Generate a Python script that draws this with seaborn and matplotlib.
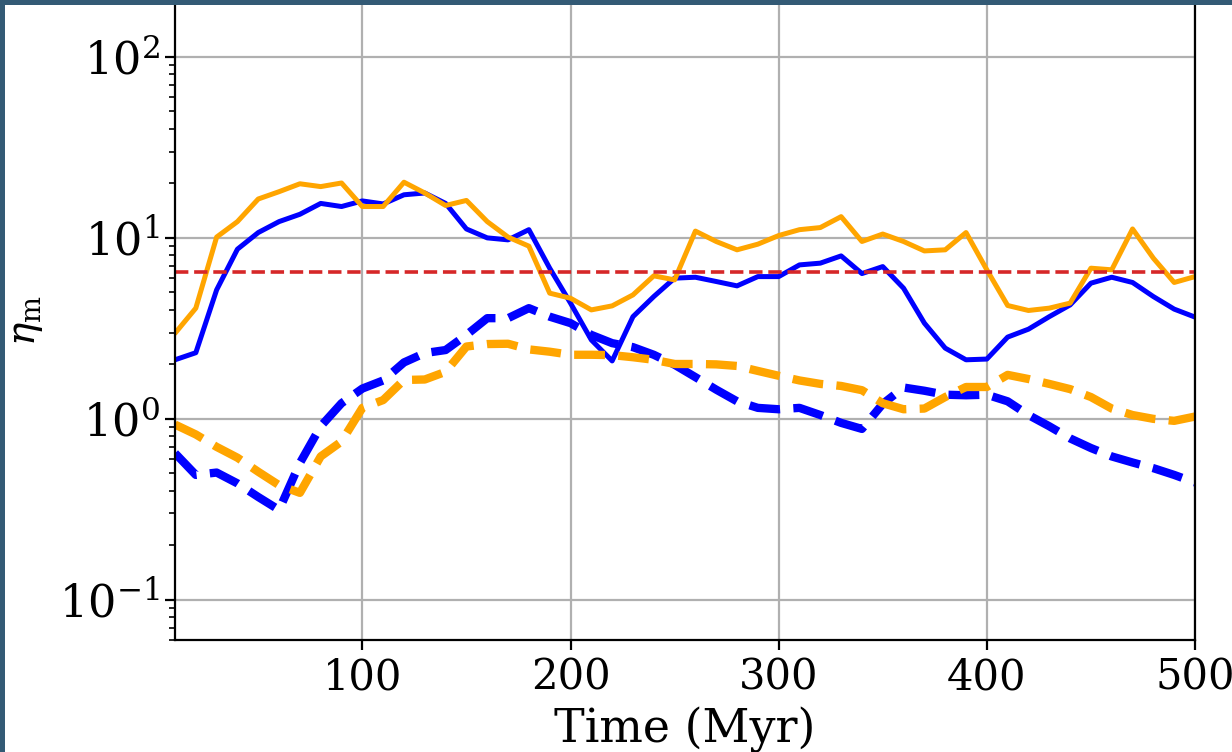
import matplotlib
matplotlib.use("Agg")
import matplotlib.pyplot as plt
from matplotlib.patches import Rectangle
import numpy as np
import pandas as pd
import seaborn as sns

# Simulation output times (Myr)
time_myr = list(range(10, 501, 10))

# Mass-loading factor, two runs, two measurement definitions
eta_blue_solid = [2.12, 2.32, 5.16, 8.66, 10.7, 12.3, 13.5, 15.5, 14.9, 16.0,
                  15.4, 17.3, 17.7, 15.5, 11.2, 10.0, 9.75, 11.1,
                  6.8, 4.36, 2.73, 2.09, 3.67, 4.74, 5.99, 6.06, 5.74, 5.43,
                  6.11, 6.11, 7.09, 7.25, 7.95, 6.35, 6.94,
                  5.27, 3.38, 2.46, 2.12, 2.14, 2.83, 3.13, 3.67, 4.26, 5.62,
                  6.06, 5.67, 4.74, 4.04, 3.65]
eta_orange_solid = [2.97, 4.09, 10.1, 12.3, 16.4, 18.0, 19.9, 19.2, 20.1, 14.9,
                    14.9, 20.3, 17.7, 15.1, 16.1, 12.3, 10.1, 9.0,
                    4.95, 4.64, 4.0, 4.21, 4.84, 6.17, 5.86, 10.9, 9.55, 8.59,
                    9.23, 10.3, 11.1, 11.4, 13.1, 9.55, 10.5,
                    9.55, 8.47, 8.59, 10.7, 6.66, 4.23, 3.97, 4.09, 4.36, 6.8,
                    6.66, 11.2, 7.72, 5.67, 6.11]
eta_blue_dashed = [0.646, 0.49, 0.505, 0.44, 0.37, 0.314, 0.57, 0.91, 1.22, 1.47,
                   1.63, 2.05, 2.31, 2.40, 2.91, 3.60, 3.60, 4.09,
                   3.67, 3.38, 2.91, 2.62, 2.49, 2.26, 1.99, 1.70, 1.45, 1.25,
                   1.15, 1.13, 1.15, 1.05, 0.95, 0.88, 1.21,
                   1.49, 1.43, 1.36, 1.35, 1.36, 1.25, 1.05, 0.91, 0.78, 0.69,
                   0.62, 0.574, 0.534, 0.49, 0.445]
eta_orange_dashed = [0.93, 0.82, 0.70, 0.61, 0.51, 0.43, 0.39, 0.62, 0.75, 1.15,
                     1.27, 1.64, 1.65, 1.82, 2.51, 2.59, 2.6, 2.42,
                     2.35, 2.26, 2.26, 2.25, 2.19, 2.12, 2.01, 2.01, 2.0, 1.96,
                     1.84, 1.73, 1.63, 1.56, 1.52, 1.44, 1.22,
                     1.13, 1.14, 1.32, 1.50, 1.50, 1.75, 1.66, 1.56, 1.46, 1.32,
                     1.14, 1.05, 1.0, 0.975, 1.03]
eta_reference = 6.5

x_ticks = [100, 200, 300, 400, 500]

sns.set_style("ticks")
plt.rcParams["font.family"] = ["DejaVu Serif"]
plt.rcParams["mathtext.fontset"] = "dejavuserif"
plt.rcParams["font.size"] = 28
for key in ("text.color", "axes.labelcolor", "xtick.color", "ytick.color",
            "xtick.labelcolor", "ytick.labelcolor"):
    plt.rcParams[key] = "black"

fig = plt.figure(figsize=(12.32, 7.52), dpi=100, facecolor="white")
ax = fig.add_axes([175 / 1232, 1 - 640 / 752, 1020 / 1232, 637.6 / 752])

series = [
    (eta_blue_solid, "blue", "-", 3.6),
    (eta_orange_solid, "orange", "-", 3.6),
    (eta_blue_dashed, "blue", "--", 6.0),
    (eta_orange_dashed, "orange", "--", 6.0),
]
for vals, col, ls, lw in series:
    df = pd.DataFrame({"time": time_myr, "eta": vals})
    sns.lineplot(data=df, x="time", y="eta", ax=ax, color=col,
                 linestyle=ls, linewidth=lw, legend=False)

ax.axhline(eta_reference, color="tab:red", linestyle="--", linewidth=2.6)

ax.set_yscale("log")
ax.set_xlim(10, 500)
ax.set_ylim(0.06, 200)
ax.set_xticks(x_ticks)
ax.grid(True, which="major", color="#b0b0b0", linewidth=1.6)
ax.set_axisbelow(True)

ax.tick_params(axis="both", which="major", length=7, width=1.6,
               direction="out", color="black")
ax.tick_params(axis="x", which="major", labelsize=30, pad=5)
ax.tick_params(axis="y", which="major", labelsize=32, pad=4)
ax.tick_params(axis="y", which="minor", length=4, width=1.2, color="black")
for sp in ax.spines.values():
    sp.set_linewidth(1.6)
    sp.set_color("black")

ax.set_xlabel("Time (Myr)", fontsize=33, labelpad=6)
ax.set_ylabel(r"$\eta_{\rm m}$", fontsize=28, labelpad=10)

# neighbouring panel label peeking in at the left edge
fig.text(7 / 1232, 1 - 677 / 752, ")", ha="right", va="center", fontsize=28)

# frame strips along the top and left edges
frame = "#335a75"
fig.patches.append(Rectangle((0, 1 - 5 / 752), 1, 5 / 752, transform=fig.transFigure,
                             facecolor=frame, edgecolor="none", zorder=10))
fig.patches.append(Rectangle((0, 0), 5 / 1232, 1, transform=fig.transFigure,
                             facecolor=frame, edgecolor="none", zorder=10))

fig.savefig("out.png", dpi=100, facecolor="white")
